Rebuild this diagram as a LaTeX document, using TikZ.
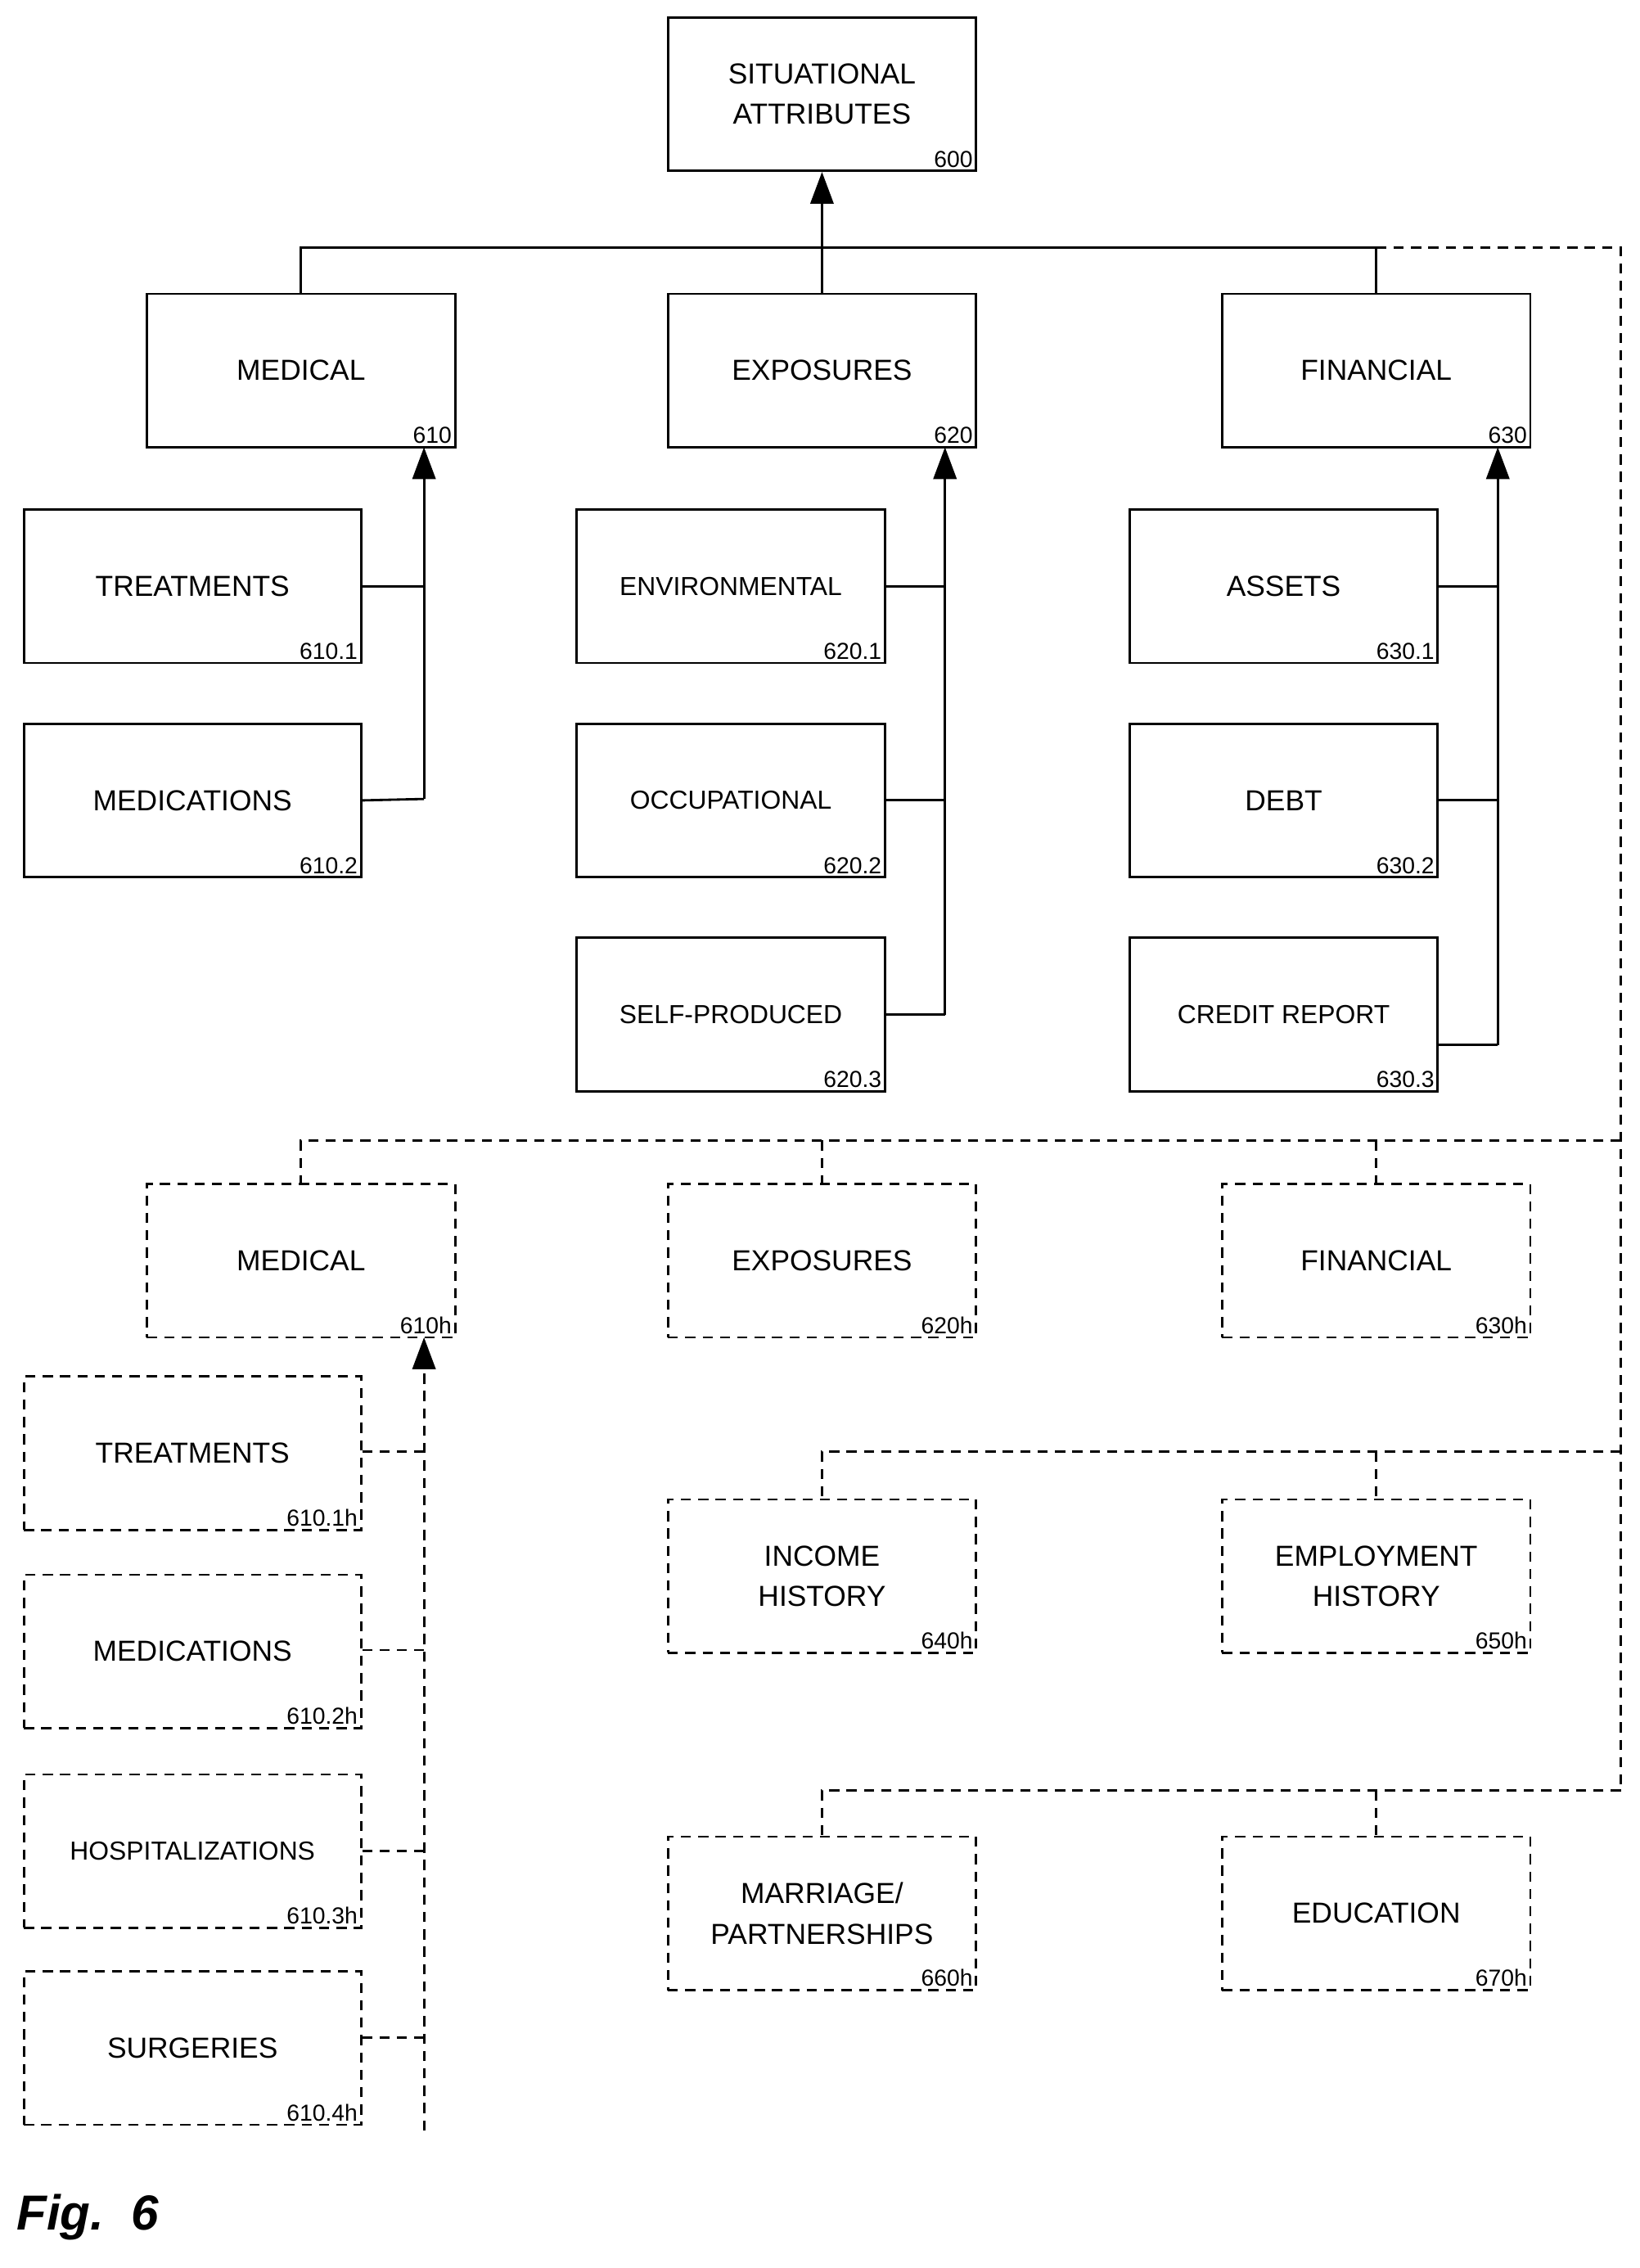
\documentclass[tikz,border=0pt]{standalone}
\usepackage{fontspec}
\setmainfont{Liberation Sans}
\usetikzlibrary{arrows.meta}

\tikzset{
  box/.style={draw, line width=1.6pt, minimum width=#1, minimum height=106pt,
    align=center, inner sep=2pt, font=\fontsize{20}{28}\selectfont},
  box/.default=213pt,
  hbox/.style={box=#1, dashed, dash pattern=on 7pt off 5pt},
  hbox/.default=213pt,
  num/.style={label={[anchor=south east, inner sep=3pt, font=\fontsize{16}{18}\selectfont]south east:#1}},
  link/.style={line width=1.6pt},
  hlink/.style={link, dash pattern=on 7pt off 5pt},
  up/.style={-{Triangle[length=22pt,width=16pt]}}
}

\begin{document}
\begin{tikzpicture}[x=1pt,y=-1pt]
  \useasboundingbox (0,0) rectangle (1133,1567);

  % top level
  \node[box, num=600] (sit) at (568,65) {SITUATIONAL\\ATTRIBUTES};
  \node[box, num=610] (med) at (208,256) {MEDICAL};
  \node[box, num=620] (exp) at (568,256) {EXPOSURES};
  \node[box, num=630] (fin) at (951,256) {FINANCIAL};

  % children
  \node[box=233pt, num=610.1] (treat) at (133,405) {TREATMENTS};
  \node[box=233pt, num=610.2] (meds) at (133,553) {MEDICATIONS};
  \node[box, num=620.1] (env) at (505,405) {\fontsize{18}{22}\selectfont ENVIRONMENTAL};
  \node[box, num=620.2] (occ) at (505,553) {\fontsize{18}{22}\selectfont OCCUPATIONAL};
  \node[box, num=620.3] (self) at (505,701) {\fontsize{18}{22}\selectfont SELF-PRODUCED};
  \node[box, num=630.1] (assets) at (887,405) {ASSETS};
  \node[box, num=630.2] (debt) at (887,553) {DEBT};
  \node[box, num=630.3] (credit) at (887,701) {\fontsize{18}{22}\selectfont CREDIT REPORT};

  % hypothetical level
  \node[hbox, num=610h] (medh) at (208,871) {MEDICAL};
  \node[hbox, num=620h] (exph) at (568,871) {EXPOSURES};
  \node[hbox, num=630h] (finh) at (951,871) {FINANCIAL};
  \node[hbox=233pt, num=610.1h] (treath) at (133,1004) {TREATMENTS};
  \node[hbox=233pt, num=610.2h] (medsh) at (133,1141) {MEDICATIONS};
  \node[hbox=233pt, num=610.3h] (hosph) at (133,1279) {\fontsize{18}{22}\selectfont HOSPITALIZATIONS};
  \node[hbox=233pt, num=610.4h] (surgh) at (133,1415) {SURGERIES};
  \node[hbox, num=640h] (inch) at (568,1089) {INCOME\\HISTORY};
  \node[hbox, num=650h] (emph) at (951,1089) {EMPLOYMENT\\HISTORY};
  \node[hbox, num=660h] (marh) at (568,1322) {MARRIAGE/\\PARTNERSHIPS};
  \node[hbox, num=670h] (eduh) at (951,1322) {EDUCATION};

  % top bus
  \coordinate (busL) at (208,171);
  \coordinate (busR) at (951,171);
  \coordinate (busE) at (1120,171);
  \draw[link] (med.north) |- (busL) -- (busR) -- (fin.north);
  \draw[link, up] (exp.north) -- (sit.south);
  \draw[hlink] (busR) -- (busE) -- (1120,1237);

  % children to parents
  \coordinate (m1) at (293,552);
  \draw[link, up] (m1) -- (293,309);
  \draw[link] (treat.east) -- (293,405);
  \draw[link] (meds.east) -- (m1);
  \coordinate (e1) at (653,701);
  \draw[link, up] (e1) -- (653,309);
  \draw[link] (env.east) -- (653,405);
  \draw[link] (occ.east) -- (653,553);
  \draw[link] (self.east) -- (e1);
  \coordinate (f1) at (1035,722);
  \draw[link, up] (f1) -- (1035,309);
  \draw[link] (assets.east) -- (1035,405);
  \draw[link] (debt.east) -- (1035,553);
  \draw[link] (credit.east |- f1) -- (f1);

  % hypothetical buses
  \draw[hlink] (1120,788) -- (208,788) -- (medh.north);
  \draw[hlink] (568,788) -- (exph.north);
  \draw[hlink] (951,788) -- (finh.north);
  \draw[hlink] (1120,1003) -- (568,1003) -- (inch.north);
  \draw[hlink] (951,1003) -- (emph.north);
  \draw[hlink] (1120,1237) -- (568,1237) -- (marh.north);
  \draw[hlink] (951,1237) -- (eduh.north);

  \draw[hlink, up] (293,1472) -- (293,924);
  \foreach \n/\y in {treath/1003, medsh/1140, hosph/1279, surgh/1408}
    \draw[hlink] (\n.east |- 0,\y) -- (293,\y);

  \node[anchor=west, font=\fontsize{34}{40}\selectfont\bfseries\itshape] (fig) at (8,1532) {Fig.~~6};
\end{tikzpicture}
\end{document}
